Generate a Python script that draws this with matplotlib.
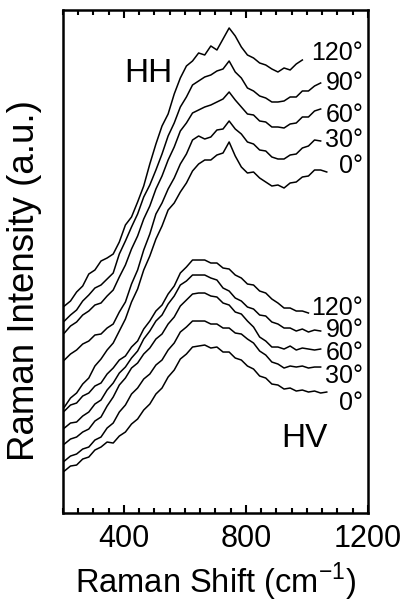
import matplotlib
matplotlib.use("Agg")
import matplotlib.pyplot as plt
from matplotlib.ticker import MultipleLocator

plt.rcParams["font.family"] = ["Liberation Sans", "DejaVu Sans"]

ANGLES = ["120°", "90°", "60°", "30°", "0°"]

# common Raman-shift sampling (cm-1); each spectrum uses the first len(y) points
X_GRID = [205, 225, 245, 265, 285, 305, 325, 345, 365, 385,
          405, 425, 445, 465, 485, 505, 525, 545, 565, 585,
          605, 625, 645, 665, 685, 705, 725, 745, 765, 785,
          805, 825, 845, 865, 885, 905, 925, 945, 965, 985,
          1005, 1025, 1045, 1065]

# HH polarisation, offset spectra (a.u.), 120° ... 0°
hh_120 = [207, 212, 221, 227, 239, 243, 252, 255, 259, 271,
          288, 296, 311, 327, 349, 369, 387, 399, 419, 435,
          447, 452, 460, 458, 467, 463, 474, 485, 477, 466,
          458, 455, 450, 448, 444, 441, 445, 443, 449, 453]
hh_90 = [192, 198, 203, 212, 218, 225, 228, 234, 240, 259,
         272, 286, 299, 316, 328, 343, 359, 377, 390, 406,
         416, 428, 432, 436, 438, 442, 444, 452, 441, 435,
         425, 422, 417, 415, 411, 411, 412, 416, 416, 422,
         422, 427, 430]
hh_60 = [180, 187, 191, 198, 202, 208, 210, 217, 223, 236,
         248, 264, 277, 294, 307, 324, 337, 353, 366, 382,
         390, 400, 403, 406, 408, 411, 414, 421, 413, 406,
         399, 398, 392, 391, 386, 386, 385, 389, 390, 396,
         396, 402, 404]
hh_30 = [153, 159, 163, 169, 172, 178, 179, 185, 189, 201,
         211, 229, 243, 263, 279, 299, 310, 324, 335, 349,
         359, 373, 377, 374, 376, 383, 384, 392, 384, 379,
         371, 369, 363, 362, 356, 354, 354, 358, 359, 365,
         367, 373, 372]
hh_0 = [106, 115, 120, 129, 135, 147, 154, 163, 170, 182,
        194, 211, 224, 243, 257, 274, 287, 303, 310, 321,
        330, 342, 349, 353, 353, 358, 360, 371, 357, 346,
        340, 341, 335, 331, 327, 328, 325, 330, 331, 336,
        337, 343, 343, 341]

# HV polarisation
hv_120 = [102, 108, 110, 117, 120, 127, 130, 139, 145, 153,
          157, 166, 172, 184, 192, 202, 208, 219, 227, 240,
          246, 253, 253, 253, 250, 250, 245, 244, 238, 235,
          229, 228, 222, 220, 214, 210, 205, 205, 202, 202,
          200]
hv_90 = [85, 90, 91, 97, 101, 109, 113, 123, 130, 140,
         146, 155, 162, 174, 182, 192, 198, 209, 217, 228,
         232, 238, 238, 238, 235, 233, 225, 222, 215, 212,
         206, 204, 198, 197, 191, 189, 185, 185, 182, 184,
         181, 183, 182]
hv_60 = [69, 74, 76, 81, 84, 92, 96, 107, 116, 128,
         135, 145, 150, 159, 165, 174, 179, 189, 196, 207,
         213, 219, 220, 220, 217, 216, 210, 208, 201, 199,
         192, 186, 176, 172, 166, 166, 164, 167, 163, 165,
         164, 163, 164]
hv_30 = [52, 57, 59, 64, 66, 73, 76, 85, 90, 101,
         108, 119, 125, 134, 139, 148, 153, 163, 170, 181,
         186, 192, 192, 192, 189, 189, 185, 185, 180, 179,
         174, 170, 162, 158, 151, 149, 145, 147, 146, 147,
         145, 146, 146]
hv_0 = [42, 47, 48, 54, 56, 63, 66, 71, 70, 77,
        81, 89, 94, 103, 109, 119, 125, 136, 143, 154,
        159, 166, 167, 168, 165, 166, 161, 161, 155, 153,
        147, 144, 137, 135, 129, 128, 124, 125, 122, 123,
        121, 122, 120, 121]

hh = [hh_120, hh_90, hh_60, hh_30, hh_0]
hv = [hv_120, hv_90, hv_60, hv_30, hv_0]

fig = plt.figure(figsize=(4.03, 6.05), dpi=100)
ax = fig.add_axes([0.156, 0.152, 0.757, 0.8315])

for ys in hh + hv:
    ax.plot(X_GRID[:len(ys)], ys, color="black", lw=1.1)

ax.set_xlim(200, 1200)
ax.set_ylim(0, 503)

# angle labels, right-aligned next to the curve ends
hh_lab_y = [453, 423, 391, 366, 340]
hv_lab_y = [198, 176, 153, 130, 103]
for lab, yy in zip(ANGLES, hh_lab_y):
    ax.text(1185, yy, lab, ha="right", va="baseline", fontsize=18)
for lab, yy in zip(ANGLES, hv_lab_y):
    ax.text(1185, yy, lab, ha="right", va="baseline", fontsize=18)
ax.text(479, 431, "HH", ha="center", va="baseline", fontsize=24)
ax.text(993, 66, "HV", ha="center", va="baseline", fontsize=24)

ax.xaxis.set_major_locator(MultipleLocator(400))
ax.xaxis.set_minor_locator(MultipleLocator(50))
ax.tick_params(axis="x", which="both", direction="in", top=True, bottom=True,
               labelsize=22, pad=8, width=1.5)
ax.tick_params(axis="x", which="major", length=6)
ax.tick_params(axis="x", which="minor", length=3.5)
ax.set_yticks([])
for sp in ax.spines.values():
    sp.set_linewidth(1.8)

ax.set_xlabel("Raman Shift (cm$^{\\mathregular{-1}}$)", fontsize=23.5, labelpad=5)
ax.set_ylabel("Raman Intensity (a.u.)", fontsize=26.5)
ax.yaxis.set_label_coords(-0.069, 0.463)

fig.savefig("out.png", dpi=100)
